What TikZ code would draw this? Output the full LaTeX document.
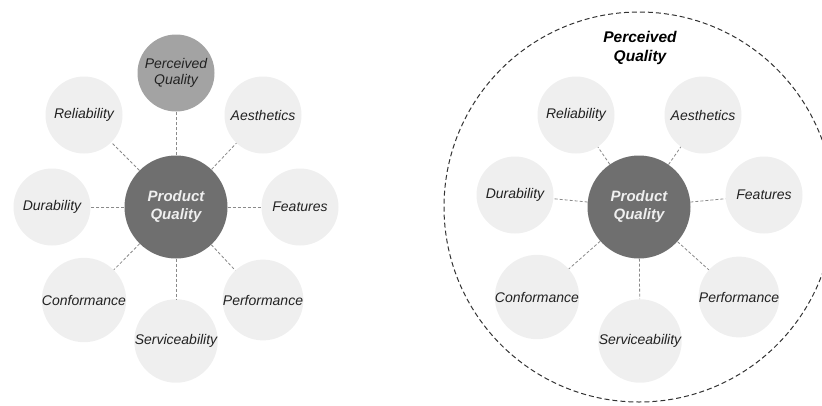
\documentclass[tikz,border=0pt]{standalone}
\usepackage{fontspec}
\setmainfont{Liberation Sans}
\usepackage{tikz}
\definecolor{dimlight}{HTML}{EFEFEF}
\definecolor{dimdark}{HTML}{6F6F6F}
\definecolor{dimmid}{HTML}{A3A3A3}
\definecolor{dimtext}{HTML}{222222}
\definecolor{dimline}{HTML}{8A8A8A}
\begin{document}
\begin{tikzpicture}[x=1pt,y=-1pt,
	dim/.style={circle, fill=dimlight, minimum size=77pt, inner sep=0pt, align=center,
		text=dimtext, font=\fontsize{14}{16.5}\selectfont\itshape},
	core/.style={circle, fill=dimdark, minimum size=103pt, inner sep=0pt, align=center,
		text=dimlight, font=\fontsize{15}{18}\selectfont\bfseries\itshape},
	seen/.style={dim, fill=dimmid},
	link/.style={draw=dimline, line width=0.8pt, dash pattern=on 3pt off 2pt}]
	\useasboundingbox (0,0) rectangle (822,405);
	% left: perceived quality as one dimension
	\node[core] (pqL) at (176,207) {Product\\Quality};
	\node[seen] (percL) at (176,73) {Perceived\\Quality};
	\node[dim] (relL) at (84,115) {Reliability};
	\node[dim] (aesL) at (263,115) {Aesthetics};
	\node[dim] (durL) at (52,207) {Durability};
	\node[dim] (feaL) at (300,207) {Features};
	\node[dim] (conL) at (84,300) {Conformance};
	\node[dim] (perfL) at (263,300) {Performance};
	\node[dim] (serL) at (176,341) {Serviceability};
	\path[link]
	(pqL) edge (percL) edge (relL) edge (aesL) edge (durL)
		edge (feaL) edge (conL) edge (perfL) edge (serL);
	% right: perceived quality around all of them
	\node[core] (pqR) at (639,207) {Product\\Quality};
	\node[dim] (relR) at (576,115) {Reliability};
	\node[dim] (aesR) at (703,115) {Aesthetics};
	\node[dim] (durR) at (515,195) {Durability};
	\node[dim] (feaR) at (764,195) {Features};
	\node[dim] (conR) at (537,297) {Conformance};
	\node[dim] (perfR) at (739,297) {Performance};
	\node[dim] (serR) at (640,341) {Serviceability};
	\path[link]
	(pqR) edge (relR) edge (aesR) edge (durR)
		edge (feaR) edge (conR) edge (perfR) edge (serR);
	\node[align=center, text=black, font=\fontsize{15.5}{19}\selectfont\bfseries\itshape]
		(percR) at (640,48) {Perceived\\Quality};
	\draw[black!80, line width=1pt, dash pattern=on 5pt off 3pt] (pqR) circle[radius=195];
\end{tikzpicture}
\end{document}
